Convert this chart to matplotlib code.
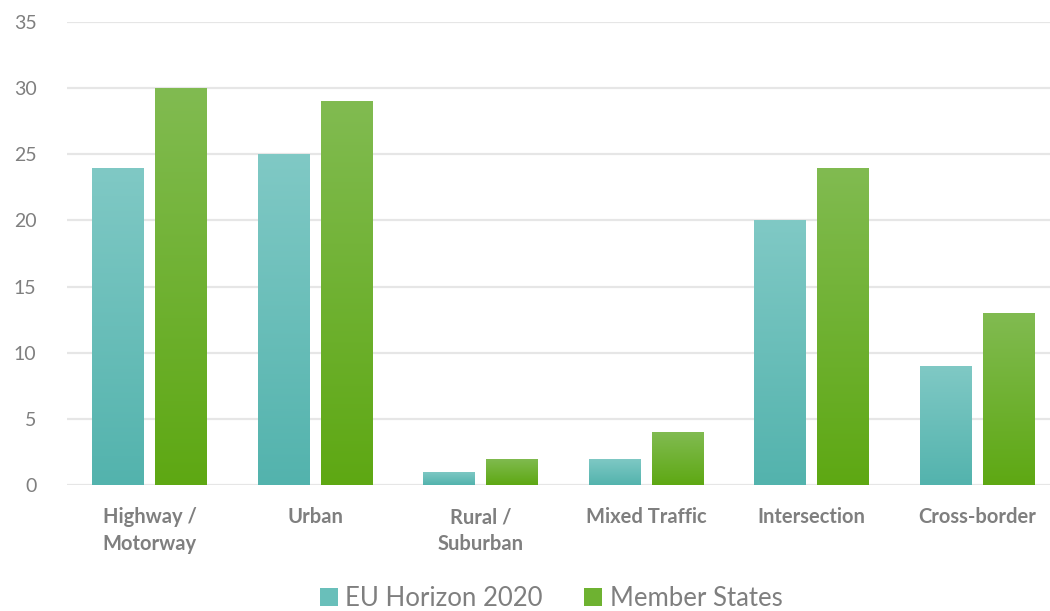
import numpy as np
import matplotlib
matplotlib.use("Agg")
import matplotlib.pyplot as plt
from matplotlib.colors import LinearSegmentedColormap
from matplotlib.patches import Patch

plt.rcParams['font.family'] = ['Lato', 'DejaVu Sans']

# Data
categories = ["Highway /\nMotorway", "Urban", "Rural /\nSuburban",
              "Mixed Traffic", "Intersection", "Cross-border"]
eu_horizon = [24, 25, 1, 2, 20, 9]
member_states = [30, 29, 2, 4, 24, 13]
series_names = ["EU Horizon 2020", "Member States"]

# Gradient colours (top, bottom)
TEAL = ("#80c9c5", "#53b3ad")
GREEN = ("#81bb51", "#5ea813")
GRID = "#e6e6e6"
TEXT = "#7f7f7f"

W, H = 1050, 611
fig = plt.figure(figsize=(W / 100, H / 100), dpi=100)
ax = fig.add_axes([67 / W, 126 / H, 993 / W, 463 / H])

x = np.arange(len(categories))
bw = 0.314
off = 0.19


def gradient_bars(ax, bars, colors):
    cmap = LinearSegmentedColormap.from_list("g", [colors[1], colors[0]])
    grad = np.linspace(0, 1, 256).reshape(-1, 1)
    for b in bars:
        x0, y0 = b.get_x(), b.get_y()
        im = ax.imshow(grad, cmap=cmap, origin="lower", aspect="auto",
                       extent=[x0, x0 + b.get_width(), y0, y0 + b.get_height()],
                       zorder=3, interpolation="bilinear")
        im.set_clip_path(b)


b1 = ax.bar(x - off, eu_horizon, bw, color="none", edgecolor="none", zorder=3)
b2 = ax.bar(x + off, member_states, bw, color="none", edgecolor="none", zorder=3)
gradient_bars(ax, b1, TEAL)
gradient_bars(ax, b2, GREEN)

ax.set_xlim(-0.5, len(categories) - 0.5)
ax.set_ylim(0, 35)
ax.set_yticks(range(0, 36, 5))
ax.set_xticks(x)
ax.set_xticklabels(categories, fontsize=14.5, fontweight="bold", color=TEXT,
                   linespacing=1.4)
ax.tick_params(axis="y", labelsize=14, labelcolor=TEXT, length=0, pad=22)
ax.tick_params(axis="x", length=0, pad=16)
ax.grid(axis="y", color=GRID, linewidth=1.6, zorder=0)
ax.set_axisbelow(True)
for s in ax.spines.values():
    s.set_visible(False)

handles = [Patch(facecolor="#69bfba", edgecolor="none"),
           Patch(facecolor="#6eb231", edgecolor="none")]
leg = fig.legend(handles, series_names, loc="center", bbox_to_anchor=(551 / W, 1 - 598 / H),
                 ncol=2, frameon=False, fontsize=18.5, handlelength=0.7,
                 handleheight=0.7, handletextpad=0.3, columnspacing=1.6,
                 borderpad=0, borderaxespad=0)
for t in leg.get_texts():
    t.set_color(TEXT)

fig.savefig("out.png", dpi=100)
